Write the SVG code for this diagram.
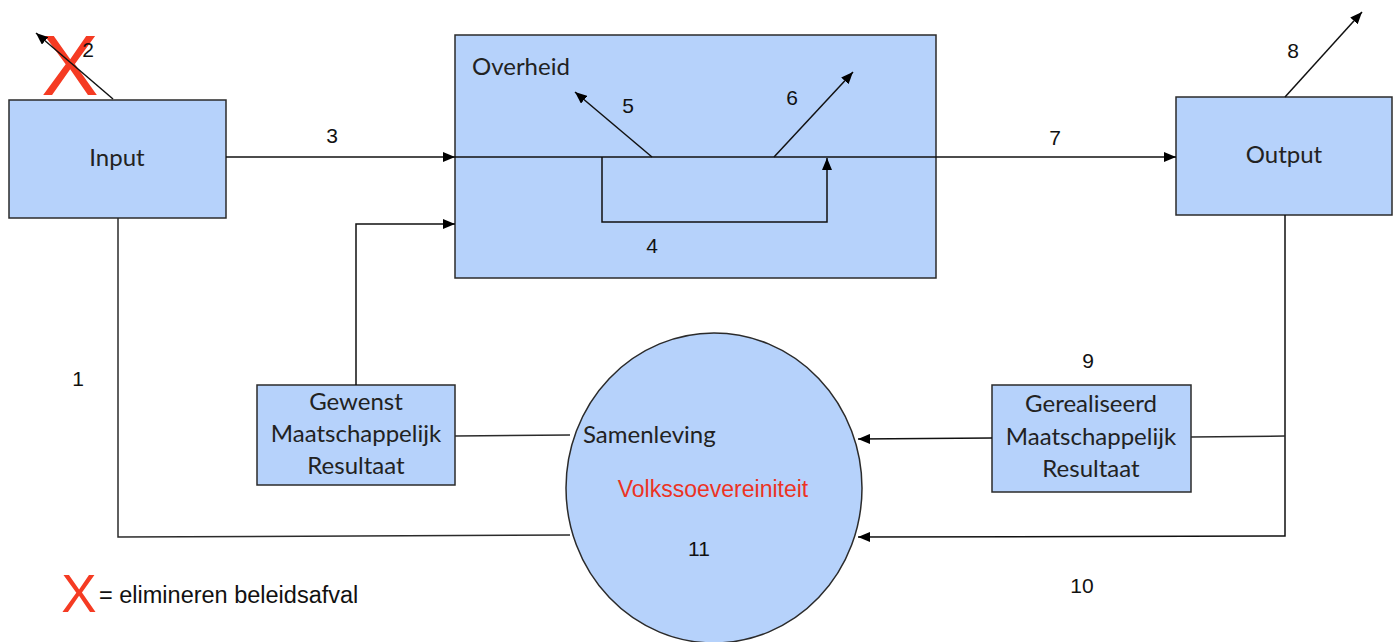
<svg xmlns="http://www.w3.org/2000/svg" width="1397" height="642" viewBox="0 0 1397 642">
<defs>
<marker id="ah" viewBox="0 0 12 10" refX="12" refY="5" markerWidth="12" markerHeight="10" markerUnits="userSpaceOnUse" orient="auto">
<path d="M0,0 L12,5 L0,10 Z" fill="#000"/>
</marker>
<style>
.box{fill:#b6d2fb;stroke:#2b2b2b;stroke-width:1.5}
.ln{fill:none;stroke:#2b2b2b;stroke-width:1.5}
.ar{fill:none;stroke:#111;stroke-width:1.5;marker-end:url(#ah)}
.lbl{font-family:Lato,"Open Sans",sans-serif;font-size:24px;fill:#222}
.num{font-family:"Liberation Sans",Arial,sans-serif;font-size:21px;fill:#111}
.red{fill:#ec3323}
.redx{font-family:"Liberation Sans",Arial,sans-serif;fill:#f53b23}
</style>
</defs>
<rect width="1397" height="642" fill="#fff"/>

<g id="legend-x">
<text class="redx" x="70" y="95" style="font-size:86px" text-anchor="middle">X</text>
</g>

<g id="input">
<rect class="box" x="9" y="100" width="217" height="118"/>
<text class="lbl" x="117" y="166" text-anchor="middle">Input</text>
</g>

<g id="overheid">
<rect class="box" x="455" y="35" width="481" height="243"/>
<text class="lbl" x="472" y="75">Overheid</text>
</g>

<g id="output">
<rect class="box" x="1176" y="97" width="216" height="118"/>
<text class="lbl" x="1284" y="163" text-anchor="middle">Output</text>
</g>

<g id="gewenst">
<rect class="box" x="257" y="385" width="198" height="100"/>
<text class="lbl" x="356" y="410" text-anchor="middle">Gewenst</text>
<text class="lbl" x="356" y="442" text-anchor="middle">Maatschappelijk</text>
<text class="lbl" x="356" y="474" text-anchor="middle">Resultaat</text>
</g>

<g id="gerealiseerd">
<rect class="box" x="992" y="385" width="199" height="107"/>
<text class="lbl" x="1091" y="412" text-anchor="middle">Gerealiseerd</text>
<text class="lbl" x="1091" y="445" text-anchor="middle">Maatschappelijk</text>
<text class="lbl" x="1091" y="477" text-anchor="middle">Resultaat</text>
</g>

<g id="samenleving">
<ellipse class="box" cx="714" cy="488" rx="148" ry="155"/>
<text class="lbl" x="583" y="443">Samenleving</text>
<text class="num red" x="713" y="497" text-anchor="middle" style="font-size:23px">Volkssoevereiniteit</text>
<text class="num" x="699" y="556" text-anchor="middle">11</text>
</g>

<g id="connectors">
<line class="ar" x1="113" y1="99" x2="36" y2="33"/>
<line class="ar" x1="226" y1="157" x2="455" y2="157"/>
<line class="ar" x1="455" y1="157" x2="1176" y2="157"/>
<polyline class="ar" points="602,157 602,222 827,222 827,158"/>
<line class="ar" x1="652" y1="157" x2="575" y2="92"/>
<line class="ar" x1="774" y1="157" x2="853" y2="72"/>
<line class="ar" x1="1285" y1="97" x2="1362" y2="12"/>
<polyline class="ar" points="356,385 356,224 455,224"/>
<line class="ln" x1="455" y1="436" x2="570" y2="435"/>
<polyline class="ln" points="118,218 118,537 570,535"/>
<polyline class="ar" points="1285,215 1285,536 858,537"/>
<line class="ln" x1="1191" y1="437" x2="1285" y2="436"/>
<line class="ar" x1="992" y1="438" x2="858" y2="439"/>
</g>

<g id="labels">
<text class="num" x="88" y="57" text-anchor="middle">2</text>
<text class="num" x="332" y="143" text-anchor="middle">3</text>
<text class="num" x="628" y="113" text-anchor="middle">5</text>
<text class="num" x="792" y="105" text-anchor="middle">6</text>
<text class="num" x="652" y="253" text-anchor="middle">4</text>
<text class="num" x="1055" y="145" text-anchor="middle">7</text>
<text class="num" x="1293" y="58" text-anchor="middle">8</text>
<text class="num" x="78" y="386" text-anchor="middle">1</text>
<text class="num" x="1088" y="368" text-anchor="middle">9</text>
<text class="num" x="1082" y="593" text-anchor="middle">10</text>
</g>

<g id="legend">
<text class="redx" x="79" y="612" style="font-size:53px" text-anchor="middle">X</text>
<text class="num" x="99" y="603" style="font-size:23.5px">= elimineren beleidsafval</text>
</g>
</svg>
